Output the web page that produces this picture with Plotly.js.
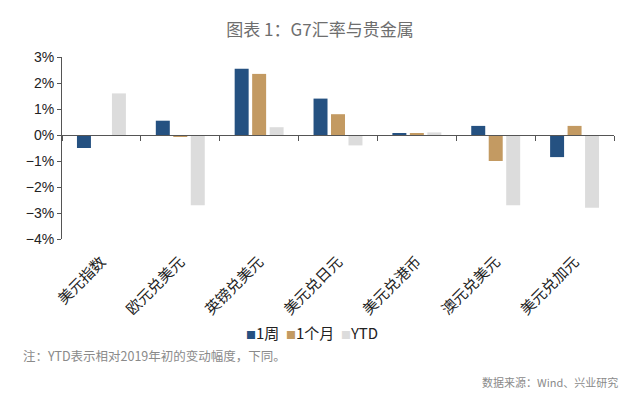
<!DOCTYPE html>
<html>
<head>
<meta charset="utf-8">
<script src="https://cdn.plot.ly/plotly-3.0.1.min.js"></script>
<style>
  body { margin: 0; background: #fff; }
  #graph { width: 640px; height: 400px; }
</style>
</head>
<body>
<div id="graph"></div>
<script>
// 图表 1：G7汇率与贵金属
var categories = ['美元指数', '欧元兑美元', '英镑兑美元', '美元兑日元', '美元兑港币', '澳元兑美元', '美元兑加元'];
var seriesNames = ['1周', '1个月', 'YTD'];
var week = [-0.5, 0.55, 2.55, 1.4, 0.05, 0.35, -0.85];
var month = [-0.02, -0.05, 2.35, 0.8, 0.05, -1.0, 0.35];
var ytd = [1.6, -2.7, 0.3, -0.4, 0.1, -2.7, -2.8];
var zeros = [0, 0, 0, 0, 0, 0, 0];

var cjk = '"Noto Sans CJK SC", "Noto Sans", sans-serif';
var colors = ['#255181', '#c39a62', '#dcdcdc'];

function barTrace(name, values, color) {
    return {
        type: 'bar',
        name: name,
        x: categories,
        y: values,
        marker: { color: color, line: { width: 0 } },
        hoverinfo: 'skip'
    };
}

var traces = [
    barTrace(seriesNames[0], week, colors[0]),
    barTrace(seriesNames[1], month, colors[1]),
    barTrace(seriesNames[2], ytd, colors[2]),
    // invisible trace so the zero-line axis with ticks is drawn
    {
        type: 'scatter',
        mode: 'none',
        x: categories,
        y: zeros,
        xaxis: 'x2',
        showlegend: false,
        hoverinfo: 'skip'
    }
];

// compact legend: small squares right before the names
var legendText = seriesNames.map(function (n, i) {
    return '<span style="color:' + colors[i] + ';font-size:10px">■</span>' + n;
}).join('  ');

var layout = {
    width: 640,
    height: 400,
    margin: { l: 62, r: 26, t: 57, b: 161 },
    paper_bgcolor: '#ffffff',
    plot_bgcolor: '#ffffff',
    font: { family: cjk, color: '#333' },
    barmode: 'group',
    bargap: 0.335,
    bargroupgap: 0.2,
    showlegend: false,
    title: {
        text: '图表 1：G7汇率与贵金属',
        font: { family: cjk, size: 17, color: '#6e6e6e' },
        x: 0.5,
        xanchor: 'center',
        y: 0.925,
        yanchor: 'middle'
    },
    xaxis: {
        type: 'category',
        showline: false,
        showgrid: false,
        zeroline: false,
        ticks: '',
        tickangle: -45,
        ticklabelstandoff: 10,
        tickfont: { family: cjk, size: 15, color: '#222' }
    },
    xaxis2: {
        type: 'category',
        overlaying: 'x',
        matches: 'x',
        anchor: 'free',
        position: 4 / 7,
        showline: true,
        linecolor: '#555',
        linewidth: 1,
        ticks: 'outside',
        tickson: 'boundaries',
        ticklen: 5,
        tickcolor: '#555',
        showticklabels: false,
        showgrid: false,
        zeroline: false
    },
    yaxis: {
        range: [-4, 3],
        dtick: 1,
        ticksuffix: '%',
        showline: true,
        linecolor: '#555',
        linewidth: 1,
        ticks: 'outside',
        ticklen: 4,
        tickcolor: '#555',
        showgrid: false,
        zeroline: false,
        tickfont: { family: 'Arial, "Liberation Sans", sans-serif', size: 14, color: '#222' }
    },
    annotations: [
        {
            text: legendText,
            xref: 'paper', yref: 'paper',
            x: 0.453, y: -0.516,
            xanchor: 'center', yanchor: 'middle',
            showarrow: false,
            font: { family: cjk, size: 15, color: '#222' }
        },
        {
            text: '注：YTD表示相对2019年初的变动幅度，下同。',
            xref: 'paper', yref: 'paper',
            x: -0.075, y: -0.638,
            xanchor: 'left', yanchor: 'middle',
            showarrow: false,
            font: { family: cjk, size: 12.5, color: '#8a8a8a' }
        },
        {
            text: '数据来源：Wind、兴业研究',
            xref: 'paper', yref: 'paper',
            x: 1.01, y: -0.786,
            xanchor: 'right', yanchor: 'middle',
            showarrow: false,
            font: { family: cjk, size: 11, color: '#8a8a8a' }
        }
    ]
};

Plotly.newPlot('graph', traces, layout, { displayModeBar: false });
</script>
</body>
</html>
